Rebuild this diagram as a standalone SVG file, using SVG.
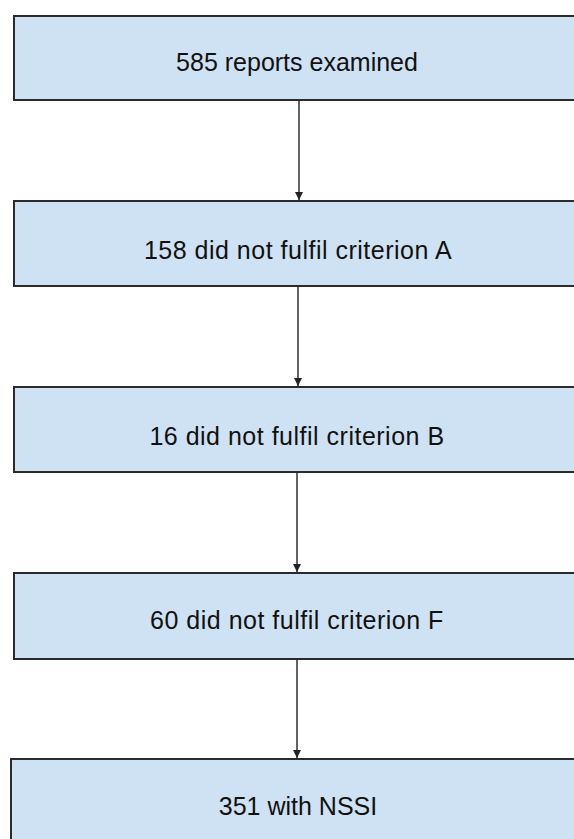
<svg xmlns="http://www.w3.org/2000/svg" width="574" height="839" viewBox="0 0 574 839">
  <style>
    .box rect { fill: #cfe2f3; stroke: #2b2b2b; stroke-width: 2; }
    .box text { font-family: "Liberation Sans", Arial, sans-serif; font-size: 25px; fill: #111; text-anchor: middle; }
    .box text.wide { letter-spacing: 0.5px; }
    #connectors line { stroke: #222; stroke-width: 1.4; marker-end: url(#head); }
  </style>
  <defs>
    <marker id="head" viewBox="0 0 8 10" refX="8" refY="5" markerUnits="userSpaceOnUse" markerWidth="8" markerHeight="10" orient="auto">
      <path d="M0,1 L8,5 L0,9 Z" fill="#222"/>
    </marker>
  </defs>

  <rect width="574" height="839" fill="#ffffff"/>

  <g id="n1" class="box">
    <rect x="14" y="16" width="580" height="84"/>
    <text x="297" y="71">585 reports examined</text>
  </g>
  <g id="n2" class="box">
    <rect x="14" y="201" width="580" height="85"/>
    <text class="wide" x="298" y="259">158 did not fulfil criterion A</text>
  </g>
  <g id="n3" class="box">
    <rect x="14" y="387" width="580" height="85"/>
    <text class="wide" x="297" y="445">16 did not fulfil criterion B</text>
  </g>
  <g id="n4" class="box">
    <rect x="14" y="573" width="580" height="86"/>
    <text class="wide" x="297" y="629">60 did not fulfil criterion F</text>
  </g>
  <g id="n5" class="box">
    <rect x="11" y="759" width="590" height="100"/>
    <text x="298" y="815">351 with NSSI</text>
  </g>

  <g id="connectors">
    <line x1="299" y1="100" x2="299" y2="200"/>
    <line x1="298" y1="286" x2="298" y2="386"/>
    <line x1="297" y1="472" x2="297" y2="572"/>
    <line x1="297" y1="659" x2="297" y2="758"/>
  </g>
</svg>
